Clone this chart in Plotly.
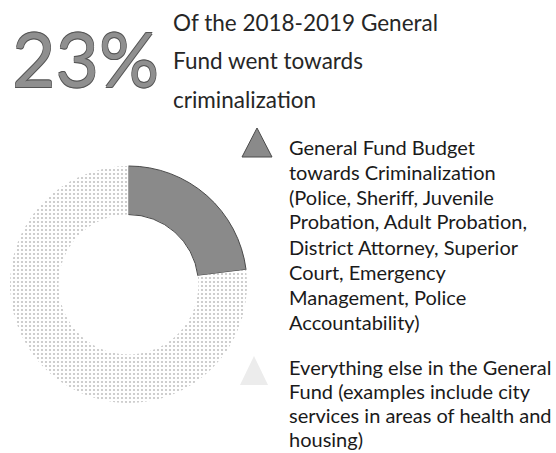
import plotly.graph_objects as go

# ---- data ----
categories = ["Criminalization", "Everything else"]
values = [23, 77]
headline_lines = ["Of the 2018-2019 General", "Fund went towards", "criminalization"]
legend_lines_1 = [
    "General Fund Budget",
    "towards Criminalization",
    "(Police, Sheriff, Juvenile",
    "Probation, Adult Probation,",
    "District Attorney, Superior",
    "Court, Emergency",
    "Management, Police",
    "Accountability)",
]
legend_lines_2 = [
    "Everything else in the General",
    "Fund (examples include city",
    "services in areas of health and",
    "housing)",
]

W, H = 556, 453
FONT = "Lato"

def py(px):
    return 1 - px / H

def px_x(px):
    return px / W

fig = go.Figure()

cx, cy, r = 128.5, 284.5, 118.5
fig.add_trace(go.Pie(
    labels=categories,
    values=values,
    sort=False,
    direction="clockwise",
    rotation=0,
    hole=0.59,
    textinfo="none",
    hoverinfo="label+percent",
    showlegend=False,
    domain=dict(x=[px_x(cx - r), px_x(cx + r)], y=[py(cy + r), py(cy - r)]),
    marker=dict(
        colors=["#8a8a8a", "#ffffff"],
        line=dict(color=["#4a4a4a", "rgba(0,0,0,0)"], width=[1, 0]),
        pattern=dict(shape=["", "."], fgcolor=["#8a8a8a", "#c2c2c2"],
                     bgcolor=["#8a8a8a", "#ffffff"], size=4, solidity=0.22),
    ),
))

annotations = []
share = round(100 * values[0] / sum(values))
annotations.append(dict(
    text=f"{share}%", x=px_x(10), y=py(58), xref="paper", yref="paper",
    xanchor="left", yanchor="middle", showarrow=False,
    font=dict(family=FONT, size=75, color="#8f8f8f",
              shadow="0.6px 0.6px 0 #555, -0.6px -0.6px 0 #555, 0.6px -0.6px 0 #555, -0.6px 0.6px 0 #555"),
))

title_base = 31
for i, line in enumerate(headline_lines):
    annotations.append(dict(
        text=line, x=px_x(171), y=py(title_base + 38.5 * i - 9), xref="paper", yref="paper",
        xanchor="left", yanchor="middle", showarrow=False,
        font=dict(family=FONT, size=22.5, color="#262626"),
    ))

for i, line in enumerate(legend_lines_1):
    annotations.append(dict(
        text=line, x=px_x(287), y=py(153 + 25 * i - 6.5), xref="paper", yref="paper",
        xanchor="left", yanchor="middle", showarrow=False,
        font=dict(family=FONT, size=20, color="#1a1a1a"),
    ))
for i, line in enumerate(legend_lines_2):
    annotations.append(dict(
        text=line, x=px_x(287), y=py(373 + 24 * i - 6.5), xref="paper", yref="paper",
        xanchor="left", yanchor="middle", showarrow=False,
        font=dict(family=FONT, size=20, color="#1a1a1a"),
    ))

def tri(x0, x1, ytop, ybot):
    xm = (x0 + x1) / 2
    return (f"M {px_x(x0)} {py(ybot)} L {px_x(x1)} {py(ybot)} "
            f"L {px_x(xm)} {py(ytop)} Z")

shapes = [
    dict(type="path", xref="paper", yref="paper", path=tri(242, 272, 128, 157),
         fillcolor="#8a8a8a", line=dict(color="#4a4a4a", width=1)),
    dict(type="path", xref="paper", yref="paper", path=tri(240, 268, 356, 385),
         fillcolor="#ececec", line=dict(width=0)),
]

fig.update_layout(
    width=W, height=H,
    margin=dict(l=0, r=0, t=0, b=0),
    paper_bgcolor="white", plot_bgcolor="white",
    annotations=annotations,
    shapes=shapes,
    showlegend=False,
)

fig.write_html("out.html", config={"displayModeBar": False},
               post_script="document.body.style.margin='0';")
